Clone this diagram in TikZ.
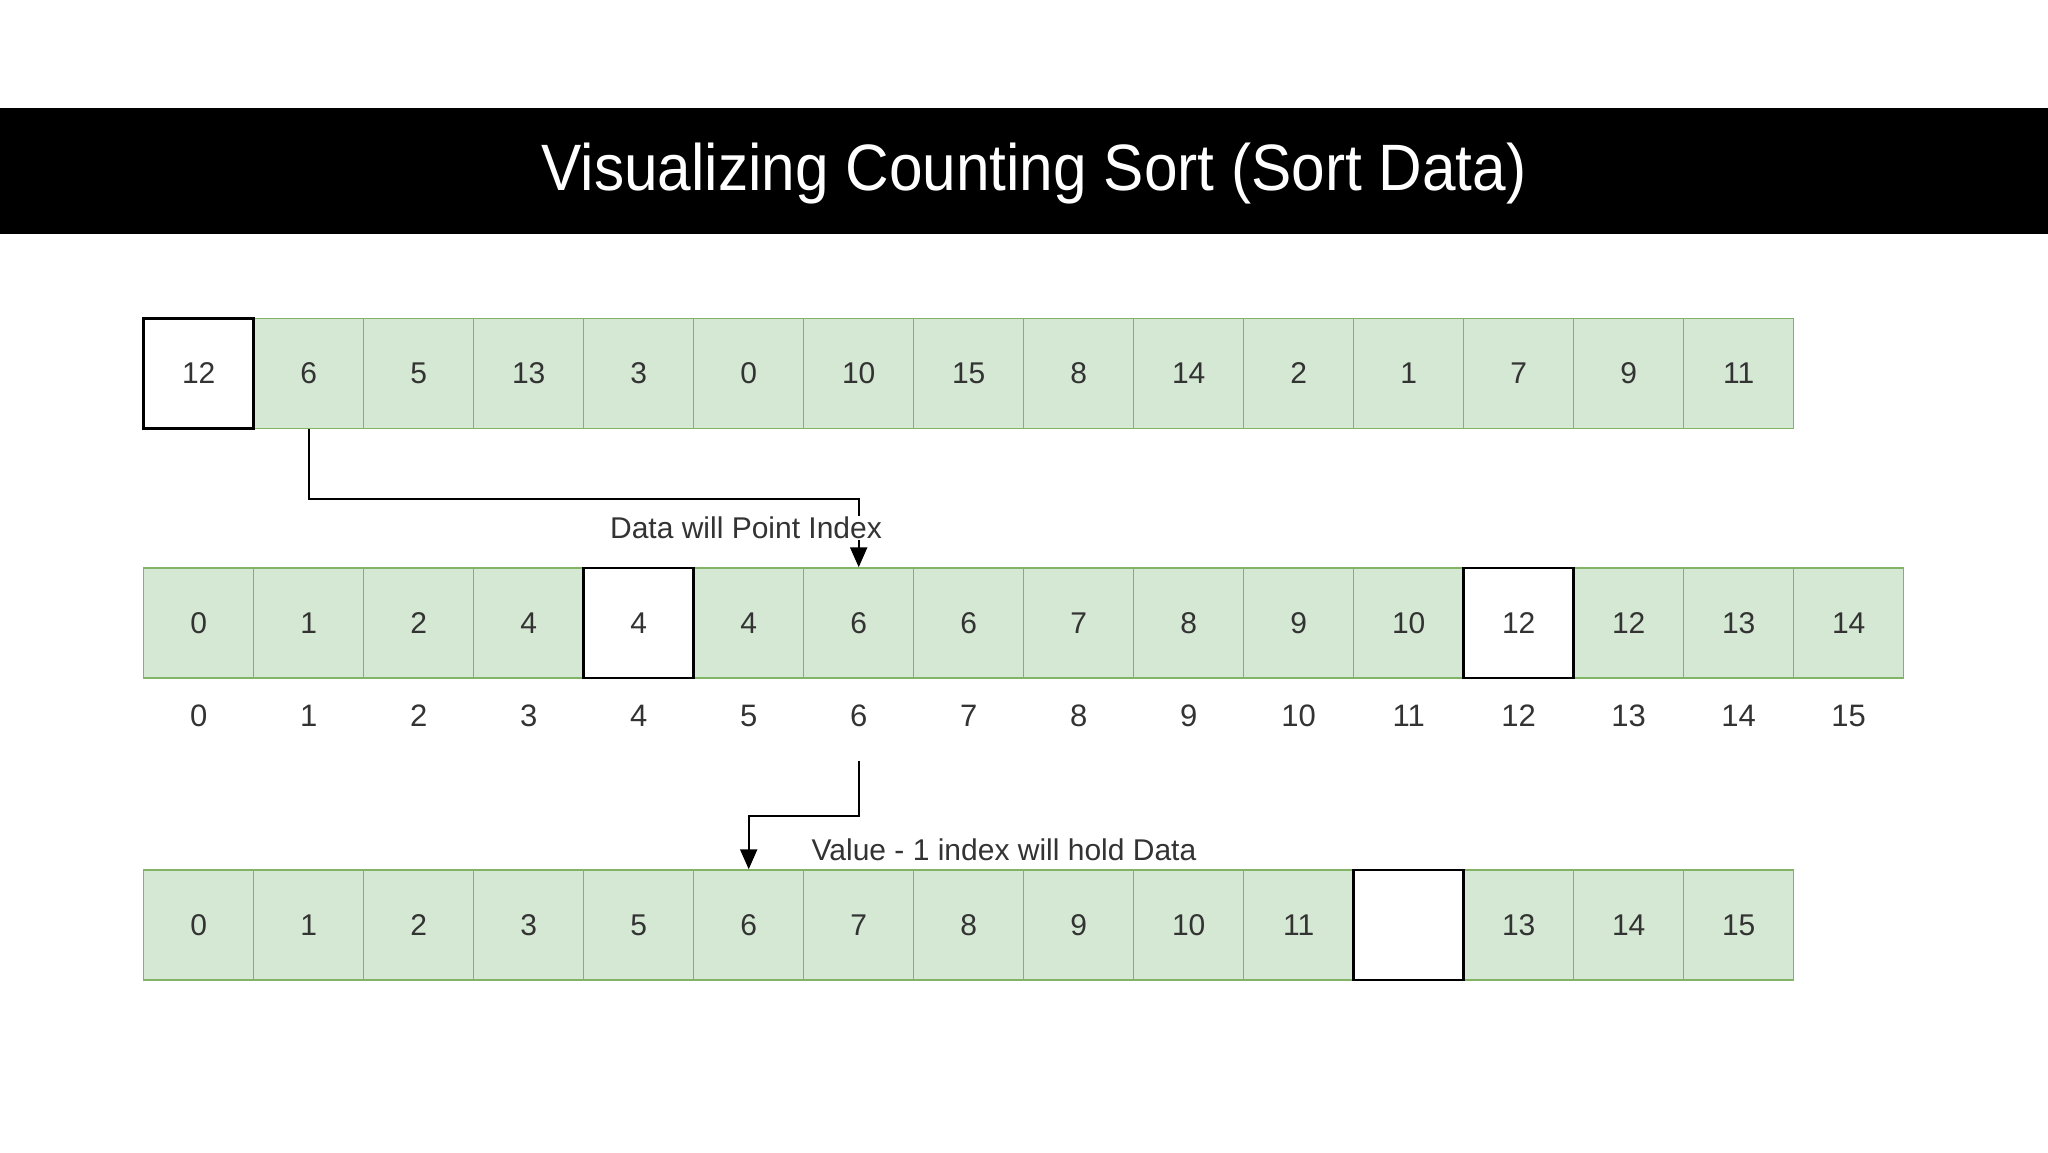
\documentclass[tikz,border=0pt]{standalone}
\usepackage{fontspec}
\setmainfont{Liberation Sans}
\newfontfamily\titlefont[FakeStretch=0.92]{Liberation Sans}
\usepackage{tikz}
\usetikzlibrary{arrows.meta,calc}
\usetikzlibrary{positioning}

\definecolor{cellfill}{HTML}{D5E8D4}
\definecolor{celldraw}{HTML}{82B366}
\definecolor{txtgray}{HTML}{333333}

\tikzset{
  cell/.style={draw=celldraw,fill=cellfill,line width=1.5pt,minimum size=110pt,
    inner sep=0pt,text=txtgray,font=\fontsize{30}{36}\selectfont},
  hlcell/.style={cell,draw=black,fill=white,line width=2.5pt},
  idx/.style={text=txtgray,font=\fontsize{31}{37}\selectfont},
  lbl/.style={fill=white,inner sep=1pt,text=txtgray,font=\fontsize{30}{36}\selectfont},
  conn/.style={line width=2.2pt,-{Triangle[length=20pt,width=17pt]}}
}

\begin{document}
\begin{tikzpicture}[x=1pt,y=-1pt]
			\useasboundingbox[fill=white] (0,0) rectangle (2048,1152);
			% title band
			\fill[black] (0,108) rectangle (2048,234);
			\node[text=white,font=\titlefont\fontsize{65.6}{78}\selectfont,anchor=base] (title) at (1034,190) {Visualizing Counting Sort (Sort Data)};
			
			% input data
			\foreach \i/\v in {1/6,2/5,3/13,4/3,5/0,6/10,7/15,8/8,9/14,10/2,11/1,12/7,13/9,14/11}
			  \node[cell] (a\i) at (198.7+110*\i,373.5) {\v};
			\node[hlcell] (a0) at (198.7,373.5) {12};
			
			% count array
			\foreach \i/\v in {0/0,1/1,2/2,3/4,5/4,6/6,7/6,8/7,9/8,10/9,11/10,13/12,14/13,15/14}
			  \node[cell] (c\i) at (198.7+110*\i,623) {\v};
			\node[hlcell] (c4) at (198.7+110*4,623) {4};
			\node[hlcell] (c12) at (198.7+110*12,623) {12};
			\foreach \i in {0,...,15}
			  \node[idx] (i\i) at (198.7+110*\i,716) {\i};
			
			% sorted output
			\foreach \i/\v in {0/0,1/1,2/2,3/3,4/5,5/6,6/7,7/8,8/9,9/10,10/11,12/13,13/14,14/15}
			  \node[cell] (s\i) at (198.7+110*\i,925) {\v};
			\node[hlcell] (s11) at (198.7+110*11,925) {};
			
			% arrows
			\draw[conn] (a1.south) -- ++(0,70) -| (c6.north);
			\node[lbl] (l1) at (746,528) {Data will Point Index};
			\coordinate (p6) at ($(i6)+(0,45)$);
			\draw[conn] (p6) -- ++(0,55) -| (s5.north);
			\node[lbl] (l2) at (1004,850) {Value - 1 index will hold Data};
\end{tikzpicture}
\end{document}
